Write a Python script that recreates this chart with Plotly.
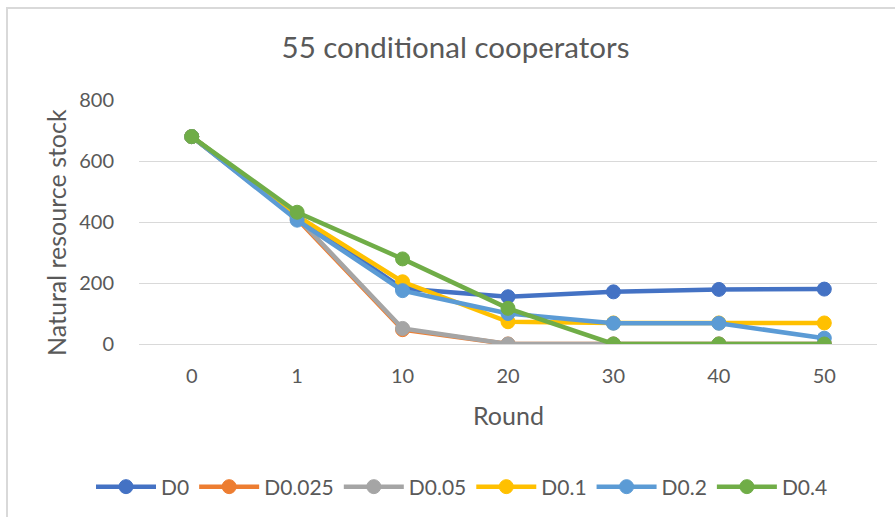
import plotly.graph_objects as go

rounds = ["0", "1", "10", "20", "30", "40", "50"]
series_names = ["D0", "D0.025", "D0.05", "D0.1", "D0.2", "D0.4"]
d0 = [680, 420, 182, 155, 171, 179, 180]
d0025 = [680, 410, 47, 0, 0, 0, 0]
d005 = [680, 415, 51, 0, 0, 0, 0]
d01 = [680, 420, 204, 73, 69, 69, 69]
d02 = [680, 406, 175, 100, 68, 68, 19]
d04 = [680, 432, 279, 117, 0, 0, 0]
colors = ["#4472C4", "#ED7D31", "#A5A5A5", "#FFC000", "#5B9BD5", "#70AD47"]
values = [d0, d0025, d005, d01, d02, d04]

FONT = "Lato"
TXT = "#595959"
W, H = 895, 517
L, R, T, B = 139, 877, 100, 344

fig = go.Figure()
for name, vals, col in zip(series_names, values, colors):
    fig.add_trace(go.Scatter(
        x=rounds, y=vals, name=name, mode="lines+markers",
        line=dict(color=col, width=4.5),
        marker=dict(color=col, size=14, line=dict(color=col, width=1)),
    ))

pw, ph = R - L, B - T
def px(x):
    return (x - L) / pw
def py(y):
    return (B - y) / ph

fig.update_layout(
    width=W, height=H,
    margin=dict(l=L, r=W - R, t=T, b=H - B, autoexpand=False),
    paper_bgcolor="white", plot_bgcolor="white",
    font=dict(family=FONT, color=TXT),
    title=dict(text="55 conditional cooperators", font=dict(size=29.5, color=TXT, family=FONT),
               xref="container", x=455.5 / W, xanchor="center",
               yref="container", y=1 - 48 / H, yanchor="middle"),
    xaxis=dict(type="category", range=[-0.5, len(rounds) - 0.5],
               showgrid=False, zeroline=False, automargin=False,
               showline=True, linecolor="#D9D9D9", linewidth=1,
               ticks="", tickfont=dict(size=20, color=TXT, family=FONT),
               ticklabelstandoff=14),
    yaxis=dict(range=[0, 800], dtick=200, showgrid=True, gridcolor="#D9D9D9", gridwidth=1,
               zeroline=False, showline=False, ticks="", automargin=False,
               tickfont=dict(size=20, color=TXT, family=FONT),
               ticklabelstandoff=24),
    legend=dict(orientation="h", xref="container", x=462 / W, xanchor="center",
                yref="container", y=1 - 487 / H, yanchor="middle",
                font=dict(size=21, color=TXT, family=FONT),
                itemwidth=60, traceorder="normal"),
    annotations=[
        dict(text="Natural resource stock", xref="paper", yref="paper",
             x=px(56), y=py(233), xanchor="center", yanchor="middle",
             textangle=-90, showarrow=False, font=dict(size=25, color=TXT, family=FONT)),
        dict(text="Round", xref="paper", yref="paper",
             x=px(509), y=py(415), xanchor="center", yanchor="middle",
             showarrow=False, font=dict(size=25, color=TXT, family=FONT)),
    ],
    shapes=[dict(type="rect", xref="paper", yref="paper",
                 x0=px(7), x1=px(905), y0=py(525), y1=py(8),
                 line=dict(color="#D9D9D9", width=2), fillcolor="rgba(0,0,0,0)", layer="below")],
)

fig.write_html("out.html")
